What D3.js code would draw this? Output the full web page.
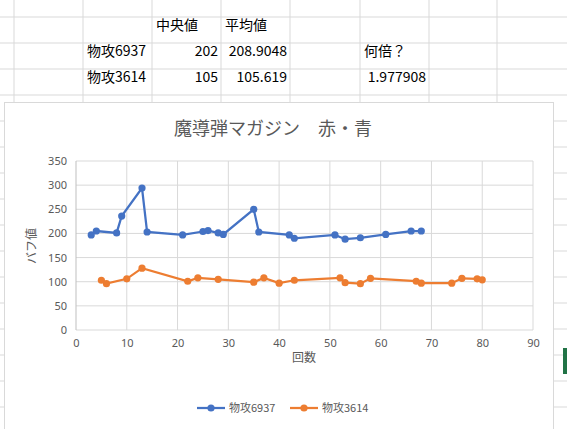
<!DOCTYPE html>
<html><head><meta charset="utf-8">
<script src="https://cdn.jsdelivr.net/npm/d3@7"></script>
<style>body{margin:0;background:#fff}svg{display:block;font-family:"Noto Sans CJK JP","Noto Sans",sans-serif}</style>
</head><body><svg id="c" width="567" height="429"></svg>
<script>
// sheet table
var tableRows = [
  ['', '', '中央値', '平均値', '', '', ''],
  ['', '物攻6937', '202', '208.9048', '', '何倍？', ''],
  ['', '物攻3614', '105', '105.619', '', '1.977908', '']
];
// series
var blueX = [3, 4, 8, 9, 13, 14, 21, 25, 26, 28, 29, 35, 36, 42, 43, 51, 53, 56, 61, 66, 68];
var blueY = [197, 205, 201, 236, 294, 203, 197, 204, 206, 201, 198, 250, 203, 197, 190, 197, 188, 191, 198, 205, 205];
var orangeX = [5, 6, 10, 13, 22, 24, 28, 35, 37, 40, 43, 52, 53, 56, 58, 67, 68, 74, 76, 79, 80];
var orangeY = [103, 96, 106, 128, 101, 108, 105, 99, 108, 97, 103, 108, 98, 96, 107, 101, 97, 97, 107, 106, 104];
var seriesNames = ['物攻6937', '物攻3614'];
var xTicks = d3.range(0, 91, 10), yTicks = d3.range(0, 351, 50);

var svg = d3.select('#c');
var colX = [14, 83, 152, 221, 290, 360, 429, 497], rowY = [17, 43, 69, 95, 121, 147, 173, 199, 225, 251, 277, 303, 329, 355, 381, 407];
colX.forEach(function (x) { svg.append('line').attr('x1', x).attr('x2', x).attr('y1', 0).attr('y2', 429).attr('stroke', '#d9d9d9'); });
rowY.forEach(function (y) { svg.append('line').attr('x1', 0).attr('x2', 567).attr('y1', y).attr('y2', y).attr('stroke', '#d9d9d9'); });
tableRows.forEach(function (r, ri) {
  r.forEach(function (t, ci) {
    if (!t) return;
    var num = !isNaN(+t);
    svg.append('text').attr('x', num ? colX[ci + 1] - 3 : colX[ci] + 4).attr('y', 30 + ri * 26)
      .attr('text-anchor', num ? 'end' : 'start').attr('font-size', 14).attr('fill', '#000').text(t);
  });
});
svg.append('rect').attr('x', 563).attr('y', 348).attr('width', 4).attr('height', 26).attr('fill', '#217346');

// chart box
svg.append('rect').attr('x', 4.5).attr('y', 102.5).attr('width', 549).attr('height', 330).attr('fill', '#fff').attr('stroke', '#d9d9d9');
svg.append('text').attr('x', 273).attr('y', 135).attr('text-anchor', 'middle').attr('font-size', 18).attr('fill', '#595959').text('魔導弾マガジン　赤・青');

var x = d3.scaleLinear().domain([0, 90]).range([76, 533]);
var y = d3.scaleLinear().domain([0, 350]).range([330, 161]);
var g = svg.append('g');
yTicks.forEach(function (t) { g.append('line').attr('x1', 76).attr('x2', 533).attr('y1', y(t)).attr('y2', y(t)).attr('stroke', '#d9d9d9'); });
xTicks.forEach(function (t) { if (t) g.append('line').attr('x1', x(t)).attr('x2', x(t)).attr('y1', 161).attr('y2', 330).attr('stroke', '#d9d9d9'); });
g.append('line').attr('x1', 76).attr('x2', 76).attr('y1', 161).attr('y2', 330).attr('stroke', '#bfbfbf');

var xa = svg.append('g').attr('transform', 'translate(0,330)').call(d3.axisBottom(x).tickValues(xTicks).tickSize(0).tickPadding(9));
var ya = svg.append('g').attr('transform', 'translate(76,0)').call(d3.axisLeft(y).tickValues(yTicks).tickSize(0).tickPadding(9));
[xa, ya].forEach(function (a) { a.select('.domain').remove(); a.selectAll('text').attr('font-size', 11).attr('fill', '#595959').attr('font-family', 'Noto Sans'); });

svg.append('text').attr('x', 304).attr('y', 362).attr('text-anchor', 'middle').attr('font-size', 12).attr('fill', '#595959').text('回数');
svg.append('text').attr('transform', 'translate(36,246) rotate(-90)').attr('text-anchor', 'middle').attr('font-size', 12).attr('fill', '#595959').text('バフ値');

var line = d3.line().x(function (d) { return x(d[0]); }).y(function (d) { return y(d[1]); });
var series = [
  { pts: d3.zip(blueX, blueY), color: '#4472c4' },
  { pts: d3.zip(orangeX, orangeY), color: '#ed7d31' }
];
series.forEach(function (s) {
  svg.append('path').datum(s.pts).attr('d', line).attr('fill', 'none').attr('stroke', s.color).attr('stroke-width', 2.25);
  svg.selectAll(null).data(s.pts).enter().append('circle')
    .attr('cx', function (d) { return x(d[0]); }).attr('cy', function (d) { return y(d[1]); })
    .attr('r', 3.6).attr('fill', s.color);
});

// legend
var lx = [197, 290];
series.forEach(function (s, i) {
  svg.append('line').attr('x1', lx[i]).attr('x2', lx[i] + 28).attr('y1', 408).attr('y2', 408).attr('stroke', s.color).attr('stroke-width', 2.25);
  svg.append('circle').attr('cx', lx[i] + 14).attr('cy', 408).attr('r', 3.6).attr('fill', s.color);
  svg.append('text').attr('x', lx[i] + 32).attr('y', 412).attr('font-size', 11).attr('fill', '#595959').text(seriesNames[i]);
});
</script></body></html>
